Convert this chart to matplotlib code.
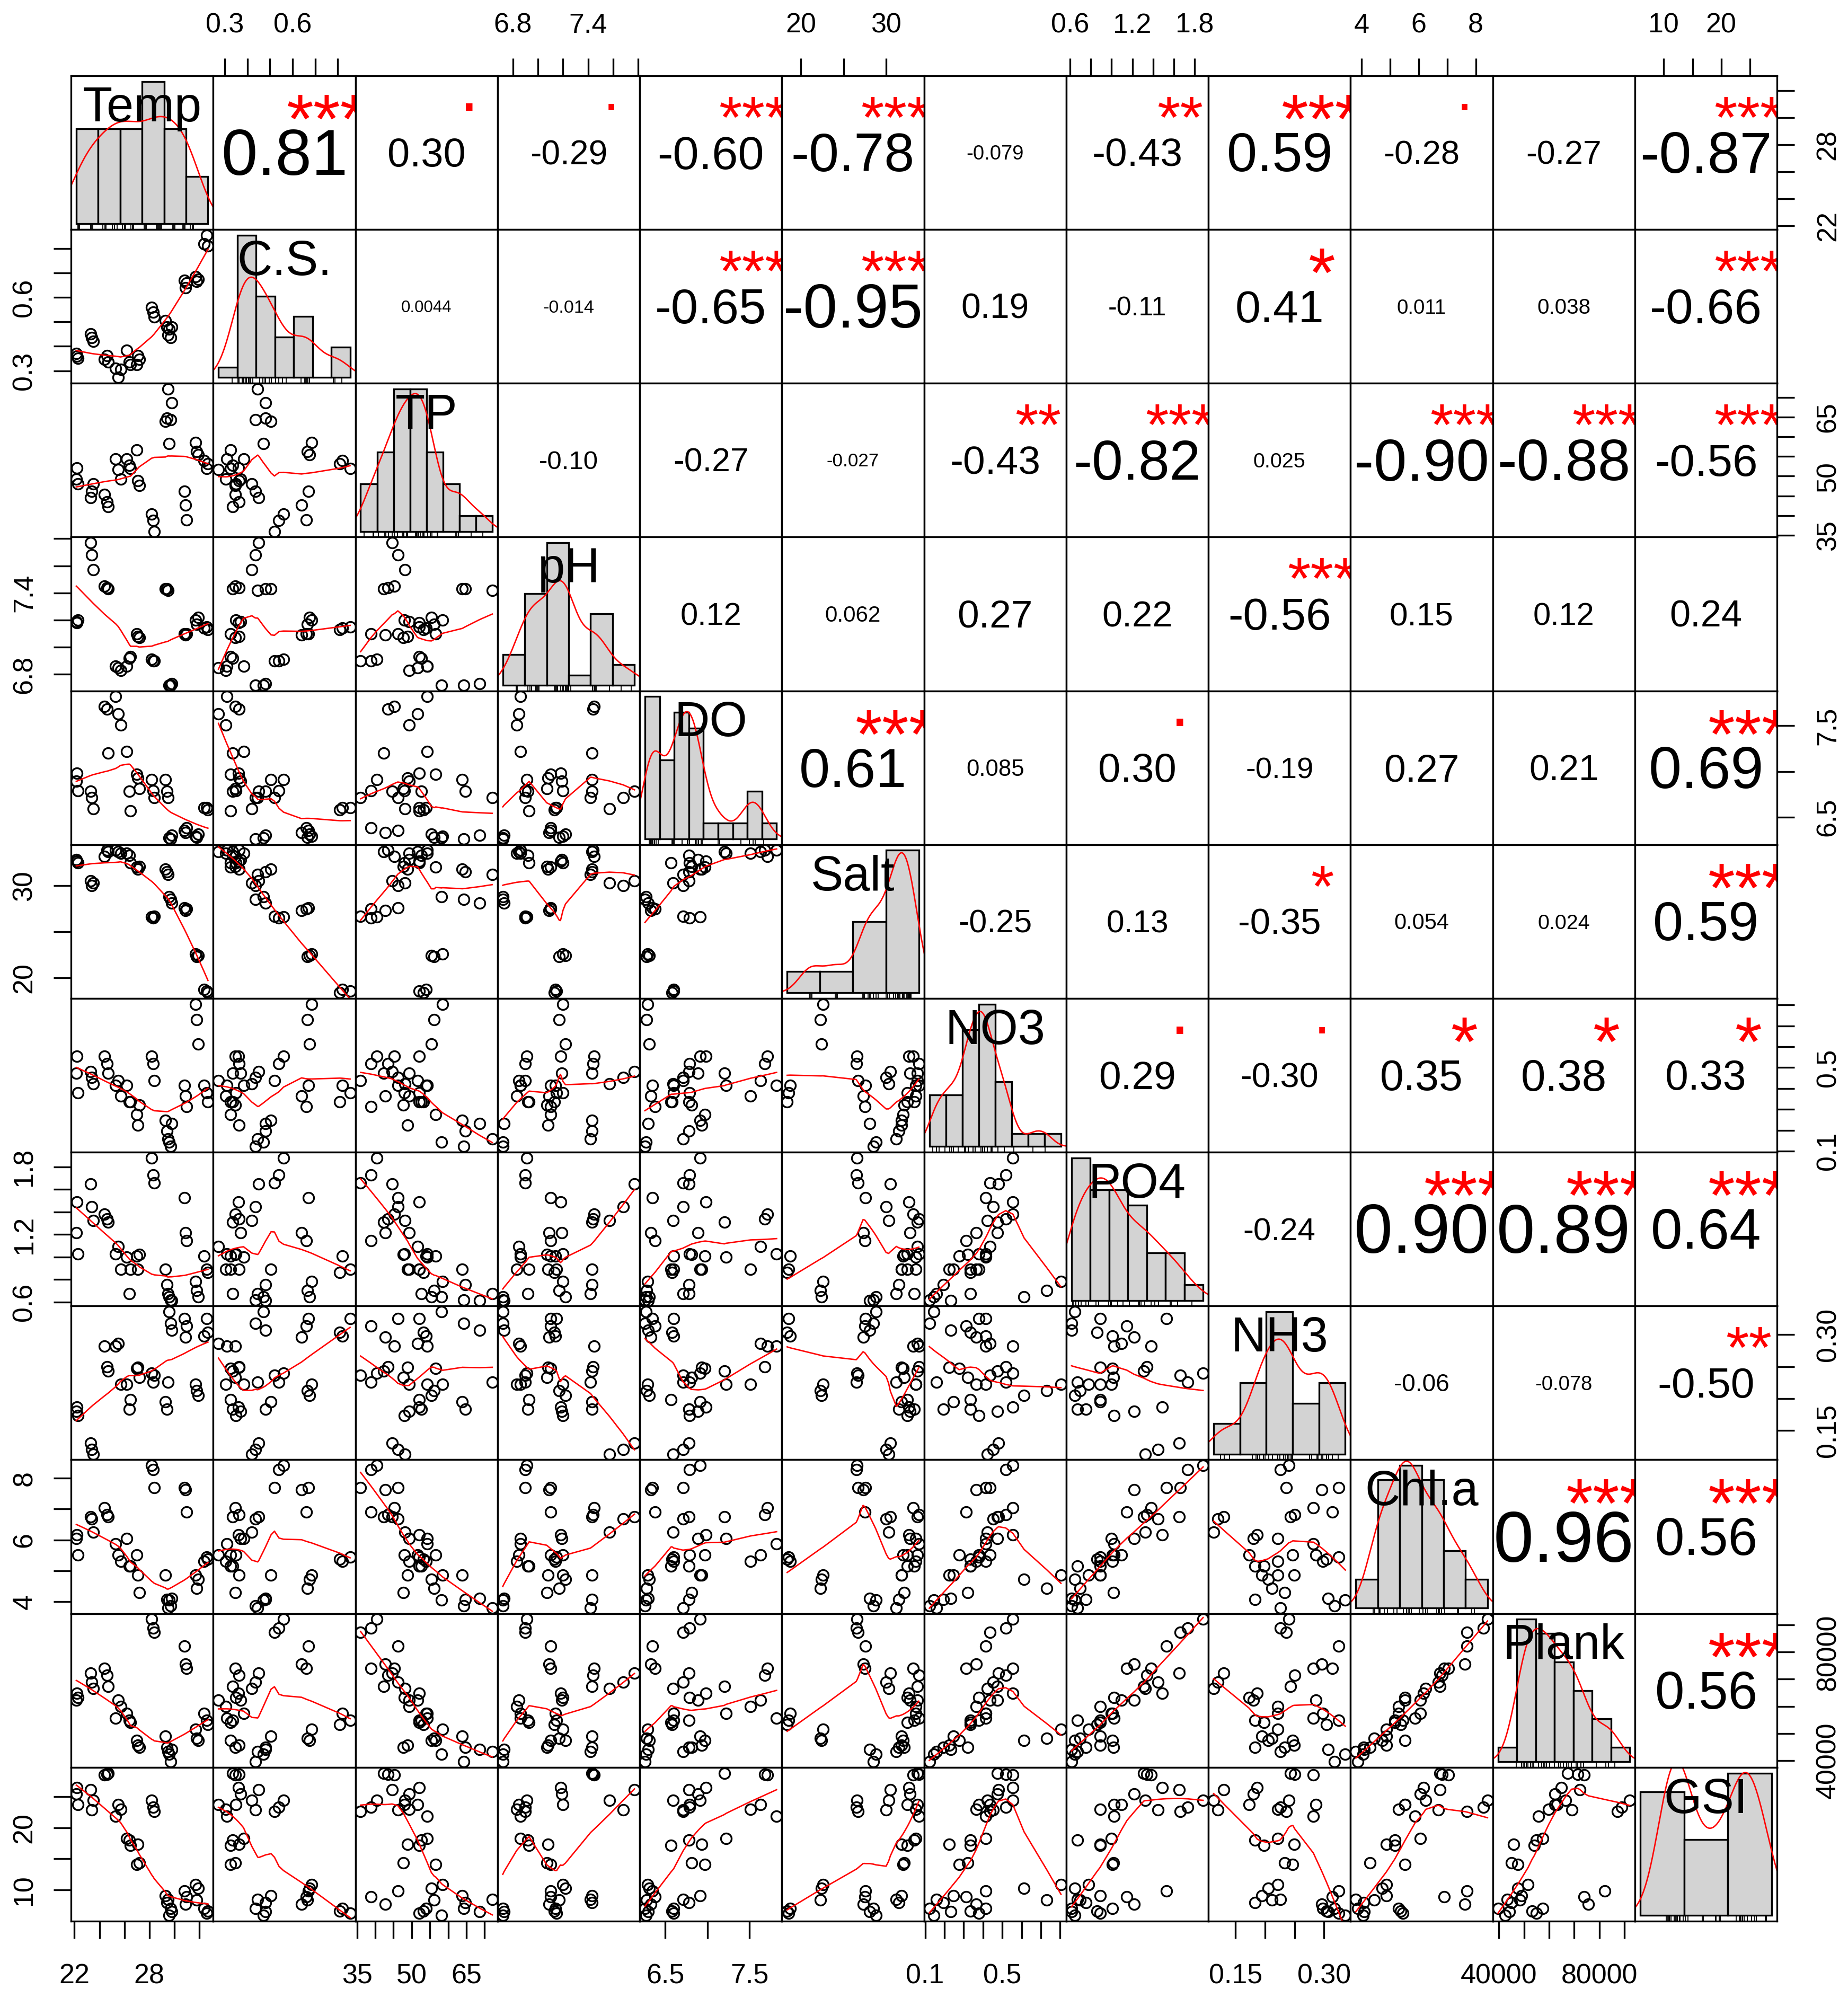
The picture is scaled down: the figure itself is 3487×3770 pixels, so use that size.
import numpy as np
import matplotlib
matplotlib.use("Agg")
import matplotlib.pyplot as plt
import matplotlib.transforms as mtransforms
from matplotlib.textpath import TextPath
from matplotlib.font_manager import FontProperties

FONT = "Liberation Sans"
plt.rcParams["font.family"] = [FONT, "DejaVu Sans"]

# ---------------------------------------------------------------- data
names = ["Temp", "C.S.", "TP", "pH", "DO", "Salt", "NO3", "PO4", "NH3", "Chl.a", "Plank", "GSI"]

temp = [22.20, 22.15, 22.30, 23.30, 23.40, 23.50, 24.40, 24.60, 24.70, 25.30, 25.50, 25.70,
        26.20, 26.40, 26.50, 27.00, 27.10, 27.20, 28.20, 28.30, 28.40, 29.30, 29.40, 29.50,
        29.60, 29.70, 29.80, 30.80, 30.90, 31.00, 31.70, 31.80, 31.90, 32.40, 32.60, 32.70]
cs = [0.360, 0.370, 0.350, 0.451, 0.435, 0.420, 0.347, 0.362, 0.336, 0.310, 0.272, 0.305,
      0.383, 0.336, 0.326, 0.326, 0.362, 0.347, 0.560, 0.540, 0.520, 0.505, 0.480, 0.446,
      0.470, 0.435, 0.480, 0.670, 0.640, 0.660, 0.685, 0.665, 0.675, 0.820, 0.855, 0.810]
tp = [52.1, 49.3, 48.0, 44.6, 46.2, 48.1, 45.3, 43.5, 42.3, 54.3, 51.6, 49.3,
      54.3, 52.7, 52.0, 56.6, 48.9, 47.7, 40.4, 38.8, 36.0, 63.9, 64.7, 72.1,
      58.2, 64.3, 68.6, 46.2, 42.7, 38.9, 58.5, 56.2, 55.4, 53.9, 52.0, 53.2]
ph = [7.18, 7.19, 7.20, 7.77, 7.68, 7.57, 7.45, 7.44, 7.43, 6.86, 6.85, 6.83,
      6.86, 6.92, 6.93, 7.10, 7.08, 7.07, 6.91, 6.90, 6.90, 7.43, 7.43, 7.42,
      6.72, 6.72, 6.73, 7.10, 7.09, 7.10, 7.20, 7.17, 7.22, 7.14, 7.15, 7.13]
dox = [6.98, 6.89, 6.79, 6.78, 6.71, 6.59, 7.71, 7.68, 7.20, 7.82, 7.63, 7.51,
       7.22, 6.78, 6.57, 6.97, 6.93, 6.81, 6.91, 6.79, 6.71, 6.91, 6.78, 6.71,
       6.27, 6.26, 6.30, 6.35, 6.33, 6.38, 6.29, 6.28, 6.31, 6.60, 6.60, 6.58]
salt = [32.66, 32.80, 32.50, 30.50, 30.00, 30.30, 33.16, 33.83, 33.66, 33.83, 33.66, 33.50,
        33.50, 33.30, 32.50, 32.00, 31.80, 32.10, 26.60, 26.50, 26.70, 31.80, 31.50, 31.20,
        28.80, 28.50, 28.10, 27.60, 27.30, 27.50, 22.60, 22.30, 22.45, 18.76, 18.60, 18.40]
no3 = [0.555, 0.474, 0.379, 0.481, 0.452, 0.423, 0.555, 0.518, 0.474, 0.415, 0.437, 0.364,
       0.415, 0.335, 0.335, 0.276, 0.225, 0.320, 0.555, 0.518, 0.437, 0.247, 0.196, 0.159,
       0.144, 0.122, 0.232, 0.415, 0.364, 0.313, 0.804, 0.730, 0.613, 0.415, 0.379, 0.335]
po4 = [1.487, 1.215, 1.025, 1.650, 1.446, 1.324, 1.378, 1.337, 1.310, 1.025, 1.093, 0.889,
       0.998, 0.672, 0.889, 1.010, 0.889, 1.020, 1.880, 1.730, 1.660, 0.889, 0.753, 0.672,
       0.645, 0.617, 0.615, 1.528, 1.215, 1.147, 0.780, 0.700, 0.645, 1.010, 0.889, 0.862]
nh3 = [0.187, 0.180, 0.173, 0.130, 0.120, 0.113, 0.282, 0.250, 0.243, 0.282, 0.286, 0.222,
       0.222, 0.183, 0.198, 0.247, 0.249, 0.233, 0.240, 0.226, 0.236, 0.195, 0.183, 0.226,
       0.336, 0.318, 0.307, 0.325, 0.296, 0.314, 0.222, 0.212, 0.205, 0.298, 0.325, 0.304]
chla = [6.17, 6.05, 5.52, 6.75, 6.68, 6.25, 7.04, 6.82, 6.75, 5.88, 5.52, 5.30,
        6.05, 5.16, 5.16, 5.52, 4.87, 4.29, 8.41, 8.27, 7.69, 4.87, 4.08, 3.80,
        4.05, 3.86, 4.10, 7.69, 7.62, 6.90, 4.87, 4.44, 4.73, 5.30, 5.45, 5.38]
plank = [64830, 62340, 63170, 72290, 68970, 66490, 73950, 71460, 67310, 55710, 62340, 59850,
         57370, 54880, 54050, 47420, 45760, 44930, 92100, 88870, 87210, 49080, 44930, 43270,
         42440, 39600, 44100, 82240, 75610, 73950, 51560, 48250, 47420, 57370, 54880, 53220]
gsi = [26.5, 25.4, 23.7, 26.1, 22.9, 24.4, 28.5, 28.6, 28.8, 21.9, 23.7, 23.0,
       18.3, 18.0, 17.2, 14.1, 17.3, 14.4, 24.4, 23.3, 22.6, 9.1, 8.0, 8.5,
       5.9, 7.0, 6.5, 9.8, 7.7, 8.9, 10.9, 8.4, 10.3, 7.0, 6.3, 6.6]

# histogram bin edges on the diagonal
temp_breaks = [22, 24, 26, 28, 30, 32, 34]
cs_breaks = [0.2, 0.3, 0.4, 0.5, 0.6, 0.7, 0.8, 0.9]
tp_breaks = [35, 40, 45, 50, 55, 60, 65, 70, 75]
ph_breaks = [6.6, 6.8, 7.0, 7.2, 7.4, 7.6, 7.8]
dox_breaks = [6.2, 6.4, 6.6, 6.8, 7.0, 7.2, 7.4, 7.6, 7.8, 8.0]
salt_breaks = [15, 20, 25, 30, 35]
no3_breaks = [0.1, 0.2, 0.3, 0.4, 0.5, 0.6, 0.7, 0.8, 0.9]
po4_breaks = [0.6, 0.8, 1.0, 1.2, 1.4, 1.6, 1.8, 2.0]
nh3_breaks = [0.10, 0.15, 0.20, 0.25, 0.30, 0.35]
chla_breaks = [3, 4, 5, 6, 7, 8, 9]
plank_breaks = [30000, 40000, 50000, 60000, 70000, 80000, 90000, 100000]
gsi_breaks = [0, 10, 20, 30]

# axis ticks and the labels printed at them
temp_ticks = [22, 24, 26, 28, 30, 32]
temp_tlab = ["22", "", "", "28", "", ""]
cs_ticks = [0.3, 0.4, 0.5, 0.6, 0.7, 0.8]
cs_tlab = ["0.3", "", "", "0.6", "", ""]
tp_ticks = [35, 40, 45, 50, 55, 60, 65, 70]
tp_tlab = ["35", "", "", "50", "", "", "65", ""]
ph_ticks = [6.8, 7.0, 7.2, 7.4, 7.6, 7.8]
ph_tlab = ["6.8", "", "", "7.4", "", ""]
dox_ticks = [6.5, 7.0, 7.5]
dox_tlab = ["6.5", "", "7.5"]
salt_ticks = [20, 25, 30]
salt_tlab = ["20", "", "30"]
no3_ticks = [0.1, 0.2, 0.3, 0.4, 0.5, 0.6, 0.7, 0.8]
no3_tlab = ["0.1", "", "", "", "0.5", "", "", ""]
po4_ticks = [0.6, 0.8, 1.0, 1.2, 1.4, 1.6, 1.8]
po4_tlab = ["0.6", "", "", "1.2", "", "", "1.8"]
nh3_ticks = [0.15, 0.20, 0.25, 0.30]
nh3_tlab = ["0.15", "", "", "0.30"]
chla_ticks = [4, 5, 6, 7, 8]
chla_tlab = ["4", "", "6", "", "8"]
plank_ticks = [40000, 50000, 60000, 70000, 80000, 90000]
plank_tlab = ["40000", "", "", "", "80000", ""]
gsi_ticks = [10, 15, 20, 25]
gsi_tlab = ["10", "", "20", ""]

# printed correlation coefficients (upper triangle, row by row) and significance marks
cor_text = [
    ["0.81", "0.30", "-0.29", "-0.60", "-0.78", "-0.079", "-0.43", "0.59", "-0.28", "-0.27", "-0.87"],
    ["0.0044", "-0.014", "-0.65", "-0.95", "0.19", "-0.11", "0.41", "0.011", "0.038", "-0.66"],
    ["-0.10", "-0.27", "-0.027", "-0.43", "-0.82", "0.025", "-0.90", "-0.88", "-0.56"],
    ["0.12", "0.062", "0.27", "0.22", "-0.56", "0.15", "0.12", "0.24"],
    ["0.61", "0.085", "0.30", "-0.19", "0.27", "0.21", "0.69"],
    ["-0.25", "0.13", "-0.35", "0.054", "0.024", "0.59"],
    ["0.29", "-0.30", "0.35", "0.38", "0.33"],
    ["-0.24", "0.90", "0.89", "0.64"],
    ["-0.06", "-0.078", "-0.50"],
    ["0.96", "0.56"],
    ["0.56"],
]
cor_stars = [
    ["***", ".", ".", "***", "***", "", "**", "***", ".", "", "***"],
    ["", "", "***", "***", "", "", "*", "", "", "***"],
    ["", "", "", "**", "***", "", "***", "***", "***"],
    ["", "", "", "", "***", "", "", ""],
    ["***", "", ".", "", "", "", "***"],
    ["", "", "*", "", "", "***"],
    [".", ".", "*", "*", "*"],
    ["", "***", "***", "***"],
    ["", "", "**"],
    ["***", "***"],
    ["***"],
]

data = [np.asarray(v, float) for v in (temp, cs, tp, ph, dox, salt, no3, po4, nh3, chla, plank, gsi)]
breaks = [np.asarray(b, float) for b in (temp_breaks, cs_breaks, tp_breaks, ph_breaks, dox_breaks,
                                         salt_breaks, no3_breaks, po4_breaks, nh3_breaks,
                                         chla_breaks, plank_breaks, gsi_breaks)]
ticks = [temp_ticks, cs_ticks, tp_ticks, ph_ticks, dox_ticks, salt_ticks,
         no3_ticks, po4_ticks, nh3_ticks, chla_ticks, plank_ticks, gsi_ticks]
tlabels = [temp_tlab, cs_tlab, tp_tlab, ph_tlab, dox_tlab, salt_tlab,
           no3_tlab, po4_tlab, nh3_tlab, chla_tlab, plank_tlab, gsi_tlab]


# ---------------------------------------------------------------- helpers
def padded(v):
    lo, hi = float(np.min(v)), float(np.max(v))
    p = 0.04 * (hi - lo)
    return lo - p, hi + p


def lowess(x, y, f=2 / 3, iters=3):
    o = np.argsort(x, kind="mergesort")
    xs, ys = x[o], y[o]
    n = len(xs)
    ns = max(min(int(f * n + 1e-7), n), 2)
    rob = np.ones(n)
    fit = np.zeros(n)
    span = xs[-1] - xs[0]
    for it in range(iters + 1):
        for i in range(n):
            d = np.abs(xs - xs[i])
            h = max(np.sort(d)[ns - 1], 1e-12)
            r = d / h
            w = np.where(r <= 0.999, (1 - r ** 3) ** 3, 0.0)
            w[r <= 0.001] = 1.0
            w = w * rob
            sw = w.sum()
            if sw <= 0:
                fit[i] = ys[i]
                continue
            w = w / sw
            a = (w * xs).sum()
            c = (w * (xs - a) ** 2).sum()
            if np.sqrt(c) > 0.001 * span:
                b = (xs[i] - a) / c
                w = w * (b * (xs - a) + 1.0)
            fit[i] = (w * ys).sum()
        if it == iters:
            break
        res = ys - fit
        cmad = 6.0 * np.median(np.abs(res))
        if cmad < 1e-7 * np.mean(np.abs(ys)):
            break
        u = np.abs(res) / cmad
        rob = np.where(u <= 0.999, (1 - u ** 2) ** 2, 0.0)
        rob[u <= 0.001] = 1.0
    return xs, fit


def kde(v):
    n = len(v)
    sd = v.std(ddof=1)
    q75, q25 = np.percentile(v, [75, 25])
    lo = min(sd, (q75 - q25) / 1.34)
    if lo <= 0:
        lo = sd
    bw = 0.9 * lo * n ** -0.2
    g = np.linspace(v.min() - 3 * bw, v.max() + 3 * bw, 512)
    d = np.exp(-0.5 * ((g[:, None] - v[None, :]) / bw) ** 2).sum(1) / (n * bw * np.sqrt(2 * np.pi))
    return g, d


def hist_density(v, br):
    idx = np.searchsorted(br, v, side="left") - 1
    idx = np.clip(idx, 0, len(br) - 2)
    counts = np.bincount(idx, minlength=len(br) - 1)
    return counts / (len(v) * np.diff(br))


ADV = {".": 0.278, "-": 0.333, "*": 0.389}


def adv_em(s):
    return sum(ADV.get(c, 0.556) for c in s)


def ink_mid(s, size_pt):
    ext = TextPath((0, 0), s, size=size_pt, prop=FontProperties(family=FONT)).get_extents()
    return 0.5 * (ext.y0 + ext.y1)


# ---------------------------------------------------------------- layout
DPI = 100
W, H = 3487, 3770
fig = plt.figure(figsize=(3487.2 / DPI, 3770.2 / DPI), dpi=DPI)
L, R = 134 / W, 3353 / W
B, T = 1 - 3625 / H, 1 - 143 / H
N = len(names)
cw, ch = (R - L) / N, (T - B) / N
cell_px = cw * W
PX2PT = 72.0 / DPI

BORDER = 2.4
TICK_PT = 52 * PX2PT
LABEL_PT = 92 * PX2PT
TICK_LEN = 33 * PX2PT
D_TB = 99 * PX2PT
D_LR = 92 * PX2PT
RED_LW = 1.9


def tick_text(ax, side, val, s):
    mid = ink_mid(s, TICK_PT)
    st = fig.dpi_scale_trans
    if side == "top":
        tr = mtransforms.blended_transform_factory(ax.transData, ax.transAxes) + \
            mtransforms.ScaledTranslation(0, (D_TB - mid) / 72, st)
        ax.text(val, 1, s, transform=tr, ha="center", va="baseline", fontsize=TICK_PT, clip_on=False)
    elif side == "bottom":
        tr = mtransforms.blended_transform_factory(ax.transData, ax.transAxes) + \
            mtransforms.ScaledTranslation(0, (-D_TB - mid) / 72, st)
        ax.text(val, 0, s, transform=tr, ha="center", va="baseline", fontsize=TICK_PT, clip_on=False)
    elif side == "left":
        tr = mtransforms.blended_transform_factory(ax.transAxes, ax.transData) + \
            mtransforms.ScaledTranslation((-D_LR + mid) / 72, 0, st)
        ax.text(0, val, s, transform=tr, ha="center", va="baseline", rotation=90,
                rotation_mode="anchor", fontsize=TICK_PT, clip_on=False)
    else:
        tr = mtransforms.blended_transform_factory(ax.transAxes, ax.transData) + \
            mtransforms.ScaledTranslation((D_LR + mid) / 72, 0, st)
        ax.text(1, val, s, transform=tr, ha="center", va="baseline", rotation=90,
                rotation_mode="anchor", fontsize=TICK_PT, clip_on=False)


def centered_text(ax, xf, yf, s, size_pt, color):
    mid = ink_mid(s, size_pt)
    tr = ax.transAxes + mtransforms.ScaledTranslation(0, -mid / 72, fig.dpi_scale_trans)
    ax.text(xf, yf, s, transform=tr, ha="center", va="baseline", fontsize=size_pt,
            color=color, clip_on=True)


for i in range(N):
    for j in range(N):
        ax = fig.add_axes([L + j * cw, T - (i + 1) * ch, cw, ch])
        for sp in ax.spines.values():
            sp.set_linewidth(BORDER)
            sp.set_zorder(5)
        ax.set_xticks([])
        ax.set_yticks([])
        ax.set_facecolor("white")

        if i == j:
            v, br = data[i], breaks[i]
            dens = hist_density(v, br)
            top = dens.max()
            span = br[-1] - br[0]
            ax.set_xlim(br[0] - 0.04 * span, br[-1] + 0.04 * span)
            ylo, yhi = -0.04 * top, 1.04 * top
            ax.set_ylim(ylo, yhi)
            ax.bar(br[:-1], dens, width=np.diff(br), align="edge", color="#D3D3D3",
                   edgecolor="black", linewidth=2.4, zorder=2)
            gx, gy = kde(v)
            ax.plot(gx, gy, color="red", lw=RED_LW, zorder=3)
            ax.vlines(v, ylo, ylo + 0.03 * (yhi - ylo), color="black", lw=1.3, zorder=3)
            ax.text(0.5, 0.705, names[i], transform=ax.transAxes, ha="center", va="baseline",
                    fontsize=LABEL_PT, zorder=4)
            continue

        ax.set_xlim(*padded(data[j]))
        ax.set_ylim(*padded(data[i]))

        if i > j:
            x, y = data[j], data[i]
            ax.plot(x, y, ls="none", marker="o", ms=14.4, mew=2.4, mfc="none", mec="black",
                    zorder=2)
            sx, sy = lowess(x, y)
            ax.plot(sx, sy, color="red", lw=RED_LW, zorder=3)
        else:
            txt = cor_text[i][j - i - 1]
            stars = cor_stars[i][j - i - 1]
            r = abs(float(txt))
            base_px = 0.95 * cell_px / adv_em(txt)
            num_px = base_px * (0.37 + 0.70 * r)
            centered_text(ax, 0.5, 0.5, txt, num_px * PX2PT, "black")
            if stars:
                centered_text(ax, 0.8, 0.795, stars, base_px * PX2PT, "red")

        # outer axes: alternate sides as in a pairs layout
        if i == 0 and j % 2 == 1:
            ax.set_xticks(ticks[j])
            ax.tick_params(axis="x", top=True, bottom=False, labeltop=False, labelbottom=False,
                           direction="out", length=TICK_LEN, width=BORDER)
            for tv, tl in zip(ticks[j], tlabels[j]):
                if tl:
                    tick_text(ax, "top", tv, tl)
        if i == N - 1 and j % 2 == 0:
            ax.set_xticks(ticks[j])
            ax.tick_params(axis="x", bottom=True, top=False, labelbottom=False, labeltop=False,
                           direction="out", length=TICK_LEN, width=BORDER)
            for tv, tl in zip(ticks[j], tlabels[j]):
                if tl:
                    tick_text(ax, "bottom", tv, tl)
        if j == 0 and i % 2 == 1:
            ax.set_yticks(ticks[i])
            ax.tick_params(axis="y", left=True, right=False, labelleft=False, labelright=False,
                           direction="out", length=TICK_LEN, width=BORDER)
            for tv, tl in zip(ticks[i], tlabels[i]):
                if tl:
                    tick_text(ax, "left", tv, tl)
        if j == N - 1 and i % 2 == 0:
            ax.set_yticks(ticks[i])
            ax.tick_params(axis="y", right=True, left=False, labelright=False, labelleft=False,
                           direction="out", length=TICK_LEN, width=BORDER)
            for tv, tl in zip(ticks[i], tlabels[i]):
                if tl:
                    tick_text(ax, "right", tv, tl)

fig.savefig("out.png", dpi=DPI, facecolor="white")
